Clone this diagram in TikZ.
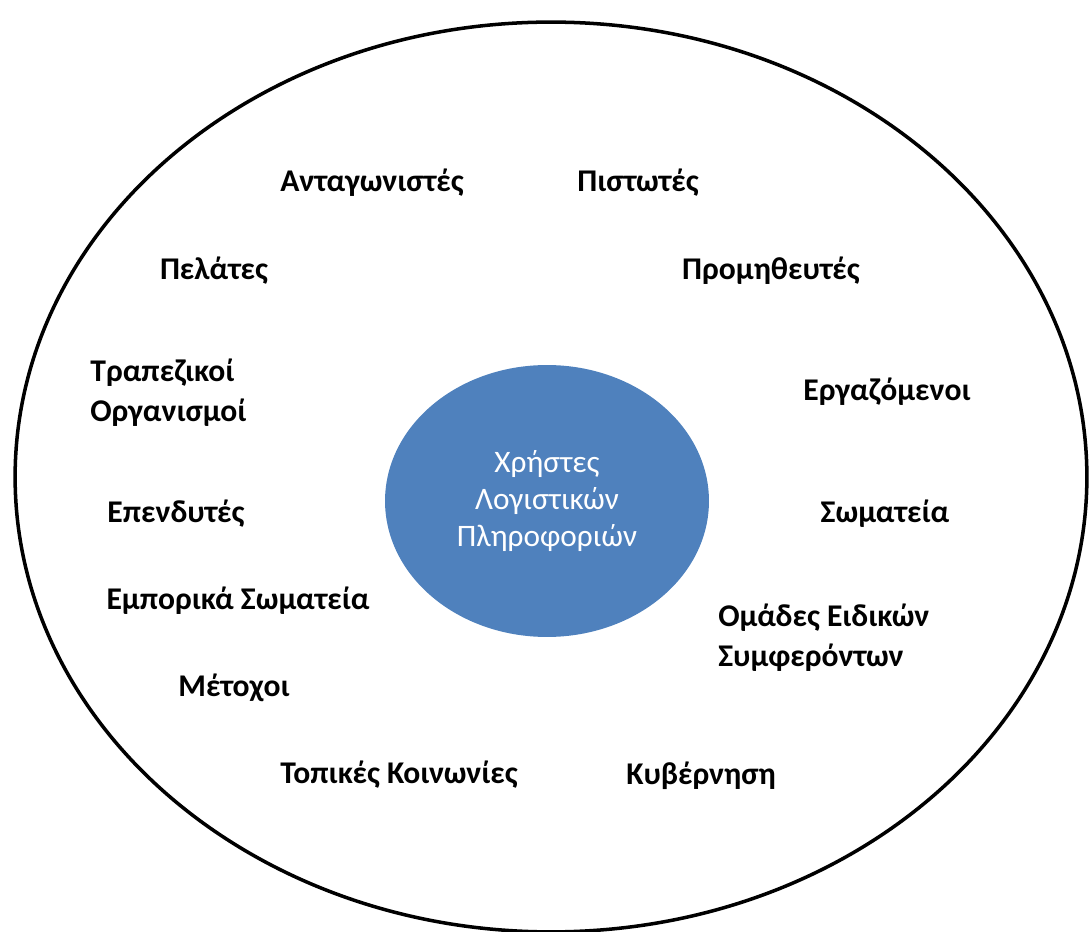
\documentclass[tikz,border=0pt]{standalone}
\usepackage{fontspec}
\setmainfont{Carlito}
\usepackage{xcolor}
\definecolor{userblue}{RGB}{79,129,189}
\usepackage{tikz}
\usetikzlibrary{positioning, shapes.geometric}

\begin{document}
\begin{tikzpicture}[
  x=0.02cm, y=-0.02cm,
  users/.style={ellipse, fill=userblue, draw=none,
                minimum width=6.48cm, minimum height=5.44cm,
                text=white, align=center, inner sep=0pt,
                font=\fontsize{17.8}{21}\selectfont},
  group/.style={font=\fontsize{18}{22.8}\selectfont\bfseries,
                align=left, inner sep=0pt},
  border/.style={draw=black, line width=2pt},
]
  \useasboundingbox (0,0) rectangle (1089,932);

  % outer ring of stakeholders
  \draw[border] (551,477) ellipse [x radius=10.72cm, y radius=9.1cm];

  % centre
  \node[users] (users) at (547,501) {Χρήστες\\Λογιστικών\\Πληροφοριών};

  % upper half
  \node[group] (rivals)    at (372,183) {Ανταγωνιστές};
  \node[group] (creditors) at (638,183) {Πιστωτές};
  \node[group] (clients)   at (214,271) {Πελάτες};
  \node[group] (suppliers) at (771,271) {Προμηθευτές};
  \node[group, anchor=west] (banks) at (90,393) {Τραπεζικοί\\Οργανισμοί};
  \node[group] (staff)     at (887,392) {Εργαζόμενοι};

  % lower half
  \node[group] (investors) at (176,514) {Επενδυτές};
  \node[group] (unions)    at (885,514) {Σωματεία};
  \node[group] (trade)     at (238,601) {Εμπορικά Σωματεία};
  \node[group, anchor=west] (lobbies) at (718,638) {Ομάδες Ειδικών\\Συμφερόντων};
  \node[group] (holders)   at (234,688) {Μέτοχοι};
  \node[group] (locals)    at (399,775) {Τοπικές Κοινωνίες};
  \node[group] (state)     at (701,776) {Κυβέρνηση};
\end{tikzpicture}
\end{document}
